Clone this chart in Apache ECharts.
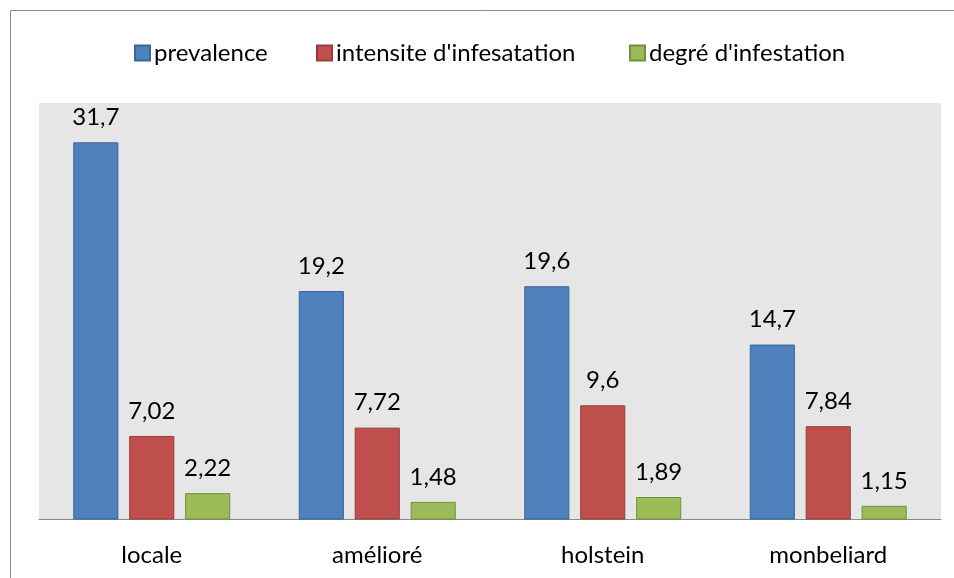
<!DOCTYPE html>
<html>
<head>
<meta charset="utf-8">
<script src="https://cdn.jsdelivr.net/npm/echarts@6/dist/echarts.min.js"></script>
<style>
  html, body { margin: 0; padding: 0; background: #ffffff; }
  #chart { width: 954px; height: 578px; }
</style>
</head>
<body>
<div id="chart"></div>
<script>
// Races bovines
const categories = ['locale', 'amélioré', 'holstein', 'monbeliard'];

// Indicateurs par race
const prevalence = [31.7, 19.2, 19.6, 14.7];
const intensite = [7.02, 7.72, 9.6, 7.84];
const degre = [2.22, 1.48, 1.89, 1.15];

const seriesNames = ['prevalence', "intensite d'infesatation", "degré d'infestation"];

const FONT = 'Lato, "Open Sans", sans-serif';
const FONT_SIZE = 24;

const fmt = (v) => String(v).replace('.', ',');

function barSeries(name, data, fill, stroke) {
  return {
    name: name,
    type: 'bar',
    data: data,
    barWidth: '20%',
    barGap: '24%',
    itemStyle: { color: fill, borderColor: stroke, borderWidth: 1 },
    label: {
      show: true,
      position: 'top',
      distance: 13,
      formatter: (p) => fmt(p.value),
      fontFamily: FONT,
      fontSize: FONT_SIZE,
      color: '#000000'
    },
    emphasis: { disabled: true }
  };
}

// one legend entry per series so each swatch sits at its own spot
const legendLefts = [129, 311, 624];
const legends = seriesNames.map((name, i) => ({
  data: [name],
  left: legendLefts[i],
  top: 36,
  itemWidth: 15,
  itemHeight: 15,
  icon: 'rect',
  textStyle: { fontFamily: FONT, fontSize: FONT_SIZE, color: '#000000', padding: [0, 0, 0, -1] }
}));

const chart = echarts.init(document.getElementById('chart'), null, { renderer: 'canvas' });

chart.setOption({
  animation: false,
  backgroundColor: '#ffffff',
  graphic: [{
    type: 'rect',
    shape: { x: 10.5, y: 10.5, width: 1000, height: 1000 },
    style: { fill: 'none', stroke: '#8c8c8c', lineWidth: 1 },
    silent: true,
    z: 100
  }],
  legend: legends,
  grid: {
    left: 39,
    right: 13,
    top: 103,
    bottom: 58.5,
    show: true,
    backgroundColor: '#e6e6e6',
    borderWidth: 0
  },
  xAxis: {
    type: 'category',
    data: categories,
    axisLine: { show: true, lineStyle: { color: '#898989', width: 1 } },
    axisTick: { show: false },
    axisLabel: { fontFamily: FONT, fontSize: FONT_SIZE, color: '#000000', margin: 24 }
  },
  yAxis: {
    type: 'value',
    min: 0,
    max: 35,
    show: false,
    splitLine: { show: false }
  },
  series: [
    barSeries(seriesNames[0], prevalence, '#4f81bd', '#3b6594'),
    barSeries(seriesNames[1], intensite, '#c0504d', '#983c39'),
    barSeries(seriesNames[2], degre, '#9bbb59', '#73913c')
  ]
});
</script>
</body>
</html>
